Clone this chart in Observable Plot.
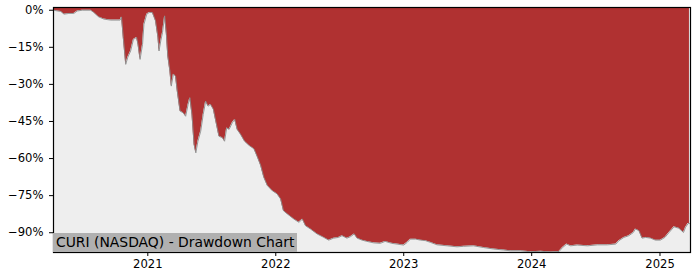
<!DOCTYPE html>
<html>
<head>
<meta charset="utf-8">
<script src="https://cdn.jsdelivr.net/npm/d3@7"></script>
<script src="https://cdn.jsdelivr.net/npm/@observablehq/plot@0.6"></script>
<style>
  html, body { margin: 0; padding: 0; background: #fff; }
  #wrap { position: relative; width: 700px; height: 280px; }
  #title {
    position: absolute; left: 53px; top: 233px; height: 19px; line-height: 19px;
    padding: 0 3px; background: #b0b0b0; color: #000;
    font-family: "DejaVu Sans", sans-serif; font-size: 13.9px; white-space: nowrap;
  }
</style>
</head>
<body>
<div id="wrap"><div id="title">CURI (NASDAQ) - Drawdown Chart</div></div>
<script>
const chartTitle = "CURI (NASDAQ) - Drawdown Chart";
const dates = [
  "2020-04-08","2020-04-18","2020-04-28","2020-05-07","2020-05-21","2020-06-04","2020-06-14","2020-06-28",
  "2020-07-22","2020-07-31","2020-08-14","2020-08-29","2020-09-17","2020-10-14","2020-10-18","2020-10-23",
  "2020-10-30","2020-11-05","2020-11-13","2020-11-21","2020-11-30","2020-12-04","2020-12-10","2020-12-17",
  "2020-12-21","2020-12-29","2021-01-05","2021-01-14","2021-01-23","2021-01-30","2021-02-02","2021-02-07",
  "2021-02-12","2021-02-18","2021-02-23","2021-02-27","2021-03-05","2021-03-09","2021-03-15","2021-03-21",
  "2021-03-26","2021-04-03","2021-04-12","2021-04-19","2021-04-26","2021-05-01","2021-05-07","2021-05-13",
  "2021-05-18","2021-05-24","2021-06-01","2021-06-08","2021-06-15","2021-06-22","2021-06-29","2021-07-07",
  "2021-07-14","2021-07-23","2021-08-02","2021-08-08","2021-08-14","2021-08-21","2021-08-30","2021-09-06",
  "2021-09-13","2021-09-23","2021-10-04","2021-10-17","2021-10-31","2021-11-10","2021-11-19","2021-11-28",
  "2021-12-08","2021-12-22","2022-01-05","2022-01-15","2022-01-23","2022-02-03","2022-02-22","2022-03-08",
  "2022-03-18","2022-03-27","2022-04-10","2022-04-29","2022-05-18","2022-06-01","2022-06-15","2022-06-29",
  "2022-07-09","2022-07-23","2022-08-02","2022-08-13","2022-08-21","2022-09-04","2022-09-18","2022-10-07",
  "2022-10-26","2022-11-09","2022-11-28","2022-12-13","2023-01-01","2023-01-11","2023-01-20","2023-02-04",
  "2023-02-18","2023-03-04","2023-03-18","2023-04-06","2023-05-05","2023-06-02","2023-06-21","2023-07-19",
  "2023-08-17","2023-09-15","2023-10-13","2023-11-01","2023-11-30","2023-12-29","2024-01-27","2024-02-25",
  "2024-03-19","2024-03-29","2024-04-10","2024-04-21","2024-05-10","2024-06-08","2024-07-07","2024-08-04",
  "2024-08-28","2024-09-06","2024-09-20","2024-10-04","2024-10-17","2024-10-23","2024-11-02","2024-11-11",
  "2024-11-21","2024-12-05","2024-12-19","2025-01-02","2025-01-15","2025-01-27","2025-02-10","2025-02-24",
  "2025-03-09","2025-03-15","2025-03-22","2025-03-26"
];
const drawdown = [
  0,-0.3,-0.5,-1.6,-1.3,-1.3,-0.3,0,
  0,-0.9,-2.7,-3.6,-4.0,-4.0,-2.7,-11,
  -21.9,-19,-16.5,-11.8,-11,-13.8,-19.9,-13.8,
  -5.7,-1.6,-0.9,-0.9,-4.3,-11,-16.5,-12.4,
  -9,-2.3,-9.7,-18.5,-24.6,-30.7,-25.9,-26.6,
  -32.7,-40.8,-41.5,-42.9,-38.1,-35.4,-42.2,-54.3,
  -57.7,-53,-48.9,-42.2,-36.8,-38.8,-38.1,-40.1,
  -44.9,-51,-51.6,-53,-47.6,-48.2,-45.5,-44.2,
  -48.2,-50.3,-53,-54.7,-56.1,-59.5,-62.8,-67.6,
  -70.9,-73,-74.3,-76.4,-81.1,-82.4,-84.5,-85.8,
  -84.5,-87.2,-88.5,-90.5,-91.9,-93,-92.2,-91.9,
  -91.2,-92.2,-91.6,-90.5,-92.2,-93,-93.5,-94.1,
  -94.3,-93.5,-94.3,-94.6,-95,-93.9,-92.6,-92.6,
  -93,-93.2,-93.9,-94.9,-95.3,-95.7,-95.5,-95.3,
  -96,-96.6,-97,-97.3,-97.3,-97.7,-97.5,-97.8,
  -97.6,-96,-94.6,-95.3,-95,-95.3,-94.9,-94.9,
  -94.6,-93.2,-91.9,-91.2,-89.9,-88.5,-89.2,-92.2,
  -91.9,-92.2,-93,-93,-91.9,-89.9,-87.6,-88.2,
  -89.9,-87.8,-86.3,-86.3
];
const yTicks = [0, -15, -30, -45, -60, -75, -90];
const xTickYears = ["2021-01-01","2022-01-01","2023-01-01","2024-01-01","2025-01-01"];
const xDomain = ["2020-04-07","2025-03-29"];
const yDomain = [-98, 1.1];

const data = dates.map((d, i) => ({date: new Date(d), dd: drawdown[i]}));
const yTop = yDomain[1];

const chart = Plot.plot({
  width: 700,
  height: 280,
  marginLeft: 53,
  marginRight: 10,
  marginTop: 7,
  marginBottom: 28,
  style: {fontFamily: "DejaVu Sans, sans-serif", fontSize: "11.6px", background: "transparent", color: "#000"},
  x: {type: "utc", domain: xDomain.map(d => new Date(d))},
  y: {domain: yDomain},
  marks: [
    Plot.frame({fill: "#eeeeee", stroke: null}),
    Plot.areaY(data, {x: "date", y1: "dd", y2: yTop, fill: "#b03131"}),
    Plot.line(data, {x: "date", y: "dd", stroke: "#8c8c8c", strokeWidth: 0.9}),
    Plot.axisX({ticks: xTickYears.map(d => new Date(d)), tickFormat: d3.utcFormat("%Y"), tickSize: 4, tickPadding: 3, label: null, stroke: "#000"}),
    Plot.axisY({ticks: yTicks, tickFormat: d => (d < 0 ? "\u2212" + Math.abs(d) : d) + "%", tickSize: 4, tickPadding: 6, label: null, stroke: "#000"}),
    Plot.frame({stroke: "#000", strokeWidth: 1.2})
  ]
});
const wrap = document.getElementById("wrap");
wrap.insertBefore(chart, wrap.firstChild);
document.getElementById("title").textContent = chartTitle;
</script>
</body>
</html>
